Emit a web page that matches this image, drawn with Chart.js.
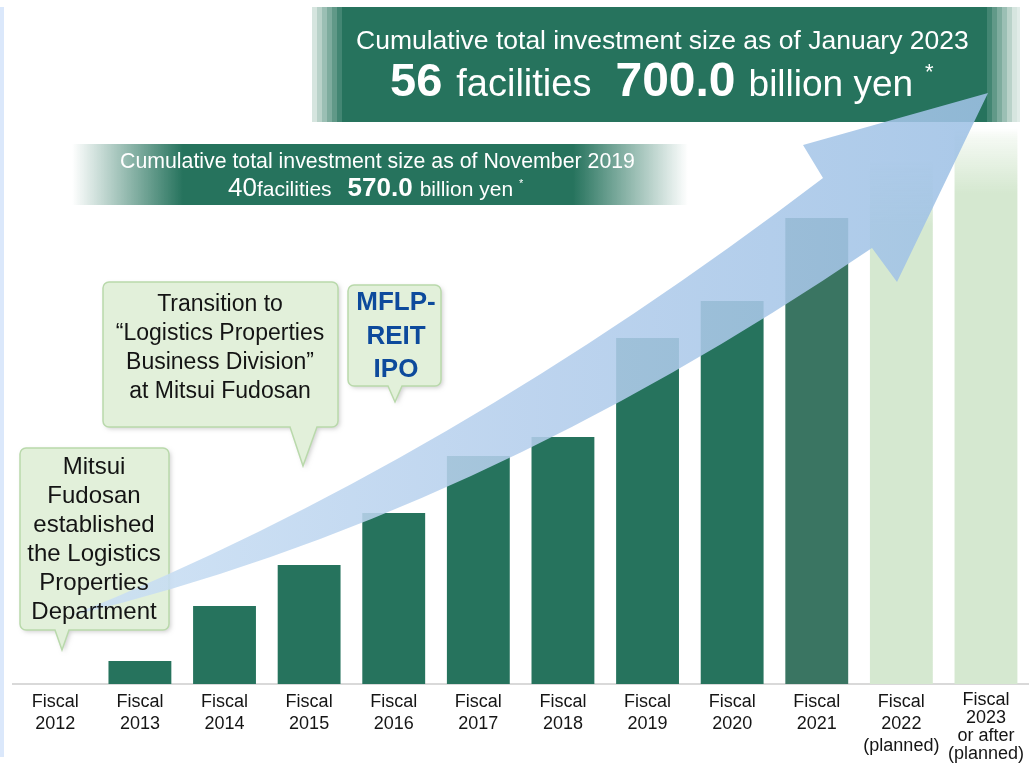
<!DOCTYPE html>
<html><head><meta charset="utf-8">
<script src="https://cdn.jsdelivr.net/npm/chart.js@4/dist/chart.umd.min.js"></script>
<style>html,body{margin:0;padding:0;background:#fff;overflow:hidden}</style>
</head><body>
<canvas id="c" width="1031" height="764"></canvas>
<script>
// ---- data ----
const categories = [
  ['Fiscal','2012'],['Fiscal','2013'],['Fiscal','2014'],['Fiscal','2015'],
  ['Fiscal','2016'],['Fiscal','2017'],['Fiscal','2018'],['Fiscal','2019'],
  ['Fiscal','2020'],['Fiscal','2021'],['Fiscal','2022','(planned)'],
  ['Fiscal','2023','or after','(planned)']
];
// relative cumulative investment size (arbitrary units)
const investmentSize = [0, 23, 78, 119, 171, 228, 247, 346, 383, 466, 524, 556];
const plannedFlags = [false,false,false,false,false,false,false,false,false,false,true,true];
const scaleMax = 600;

const banner1Line1 = 'Cumulative total investment size as of January 2023';
const banner1Facilities = '56';
const banner1Amount = '700.0';
const banner2Line1 = 'Cumulative total investment size as of November 2019';
const banner2Facilities = '40';
const banner2Amount = '570.0';
const note1Lines = ['Mitsui','Fudosan','established','the Logistics','Properties','Department'];
const note2Lines = ['Transition to','\u201CLogistics Properties','Business Division\u201D','at Mitsui Fudosan'];
const note3Lines = ['MFLP-','REIT','IPO'];

const FONT = "'Liberation Sans', Arial, sans-serif";
const DARK = '#26735d';
const DARK2 = '#3a7562';
const PLAN = [213,232,208];

function roundedCallout(ctx, x0, y0, x1, y1, r, px0, px1, tx, ty) {
  ctx.beginPath();
  ctx.moveTo(x0 + r, y0);
  ctx.lineTo(x1 - r, y0); ctx.arcTo(x1, y0, x1, y0 + r, r);
  ctx.lineTo(x1, y1 - r); ctx.arcTo(x1, y1, x1 - r, y1, r);
  ctx.lineTo(px1, y1); ctx.lineTo(tx, ty); ctx.lineTo(px0, y1);
  ctx.lineTo(x0 + r, y1); ctx.arcTo(x0, y1, x0, y1 - r, r);
  ctx.lineTo(x0, y0 + r); ctx.arcTo(x0, y0, x0 + r, y0, r);
  ctx.closePath();
}
function fillCallout(ctx, args) {
  ctx.save();
  roundedCallout(ctx, ...args);
  ctx.shadowColor = 'rgba(0,0,0,0.18)';
  ctx.shadowBlur = 4; ctx.shadowOffsetX = 2; ctx.shadowOffsetY = 2;
  ctx.fillStyle = '#e2f0da';
  ctx.fill();
  ctx.shadowColor = 'transparent';
  ctx.strokeStyle = '#b9d9ab';
  ctx.lineWidth = 1.5;
  ctx.stroke();
  ctx.restore();
}
function drawLines(ctx, lines, cx, y0, pitch, font, color) {
  ctx.save();
  ctx.font = font; ctx.fillStyle = color;
  ctx.textAlign = 'center'; ctx.textBaseline = 'middle';
  lines.forEach((l, i) => ctx.fillText(l, cx, y0 + i * pitch));
  ctx.restore();
}
function drawRuns(ctx, runs, x, baseline, color) {
  ctx.save();
  ctx.fillStyle = color; ctx.textAlign = 'left'; ctx.textBaseline = 'alphabetic';
  runs.forEach(r => {
    x += (r.gap || 0);
    ctx.font = r.f;
    ctx.fillText(r.t, x, baseline + (r.dy || 0));
    x += ctx.measureText(r.t).width;
  });
  ctx.restore();
}
function lerp(a, b, t) { return Math.round(a + (b - a) * t); }

const decor = {
  id: 'decor',
  beforeDraw(chart) {
    const ctx = chart.ctx;
    ctx.save();
    ctx.fillStyle = '#dbe8fb';
    ctx.fillRect(0, 7, 4, 750);
    ctx.restore();
  },
  afterDatasetsDraw(chart) {
    const ctx = chart.ctx;
    ctx.save();
    // ---- top banner ----
    const dk = [38,115,93], lt = [214,229,223];
    ctx.fillStyle = DARK;
    ctx.fillRect(347, 7, 635, 115);
    for (let i = 0; i < 7; i++) {
      const t = i / 6;
      ctx.fillStyle = `rgb(${lerp(lt[0],dk[0],t)},${lerp(lt[1],dk[1],t)},${lerp(lt[2],dk[2],t)})`;
      ctx.fillRect(312 + i * 5, 7, 5, 115);
    }
    for (let i = 0; i < 7; i++) {
      const t = i / 6;
      ctx.fillStyle = `rgb(${lerp(dk[0],lt[0],t)},${lerp(dk[1],lt[1],t)},${lerp(dk[2],lt[2],t)})`;
      ctx.fillRect(982 + i * 5, 7, 5, 115);
    }
    ctx.fillStyle = 'rgb(225,236,232)';
    ctx.fillRect(1017, 7, 3, 115);

    // ---- second banner ----
    const g2 = ctx.createLinearGradient(72, 0, 688, 0);
    g2.addColorStop(0, 'rgba(38,115,93,0)');
    g2.addColorStop((183 - 72) / 616, 'rgba(38,115,93,1)');
    g2.addColorStop((573 - 72) / 616, 'rgba(38,115,93,1)');
    g2.addColorStop(1, 'rgba(38,115,93,0)');
    ctx.fillStyle = g2;
    ctx.fillRect(72, 144, 616, 61);

    // ---- callout shapes ----
    fillCallout(ctx, [20, 448, 169, 630, 6, 55, 69, 62, 650]);
    fillCallout(ctx, [103, 282, 338, 427, 6, 290, 317, 303, 466]);
    fillCallout(ctx, [348, 285, 441, 386, 6, 388, 402, 395, 402]);

    // ---- arrow ----
    const ga = ctx.createLinearGradient(70, 0, 990, 0);
    ga.addColorStop(0, 'rgba(203,224,244,0.88)');
    ga.addColorStop(0.5, 'rgba(180,206,236,0.88)');
    ga.addColorStop(1, 'rgba(158,193,229,0.88)');
    ctx.beginPath();
    ctx.moveTo(70, 616);
    ctx.quadraticCurveTo(446, 465, 823, 178);
    ctx.lineTo(803, 145);
    ctx.lineTo(988, 93);
    ctx.lineTo(897, 282);
    ctx.lineTo(872, 248);
    ctx.quadraticCurveTo(471, 520, 70, 616);
    ctx.closePath();
    ctx.fillStyle = ga;
    ctx.fill();

    // ---- texts ----
    ctx.save();
    ctx.fillStyle = '#fff'; ctx.font = `26.5px ${FONT}`; ctx.textBaseline = 'alphabetic';
    ctx.fillText(banner1Line1, 356, 49);
    ctx.restore();
    drawRuns(ctx, [
      {t: banner1Facilities, f: `bold 47px ${FONT}`},
      {t: 'facilities', f: `38px ${FONT}`, gap: 14},
      {t: banner1Amount, f: `bold 48px ${FONT}`, gap: 24},
      {t: 'billion yen', f: `37px ${FONT}`, gap: 13},
      {t: '*', f: `22px ${FONT}`, gap: 12, dy: -17}
    ], 390, 96, '#fff');

    ctx.save();
    ctx.fillStyle = '#fff'; ctx.font = `21.3px ${FONT}`; ctx.textBaseline = 'alphabetic';
    ctx.fillText(banner2Line1, 120, 168);
    ctx.restore();
    drawRuns(ctx, [
      {t: banner2Facilities, f: `26px ${FONT}`},
      {t: 'facilities', f: `21px ${FONT}`},
      {t: banner2Amount, f: `bold 26px ${FONT}`, gap: 16},
      {t: 'billion yen', f: `21px ${FONT}`, gap: 7},
      {t: '*', f: `11px ${FONT}`, gap: 6, dy: -9}
    ], 228, 196, '#fff');

    drawLines(ctx, note1Lines, 94, 467, 29, `24px ${FONT}`, '#141414');
    drawLines(ctx, note2Lines, 220, 305, 29, `23px ${FONT}`, '#141414');
    drawLines(ctx, note3Lines, 396, 303, 33.5, `bold 26px ${FONT}`, '#0d4a9c');
    ctx.restore();
  }
};

new Chart(document.getElementById('c'), {
  type: 'bar',
  data: {
    labels: categories,
    datasets: [{
      data: investmentSize,
      barPercentage: 0.743,
      categoryPercentage: 1,
      borderWidth: 0,
      backgroundColor: (c) => {
        const i = c.dataIndex, chart = c.chart;
        if (plannedFlags[i]) {
          if (!chart.chartArea || !chart.scales.y) return `rgb(${PLAN})`;
          const y = chart.scales.y.getPixelForValue(investmentSize[i]);
          const g = chart.ctx.createLinearGradient(0, y, 0, y + 65);
          g.addColorStop(0, `rgba(${PLAN},0)`);
          g.addColorStop(0.15, `rgba(${PLAN},0.25)`);
          g.addColorStop(1, `rgba(${PLAN},1)`);
          return g;
        }
        return i === 9 ? DARK2 : DARK;
      }
    }]
  },
  options: {
    responsive: false,
    animation: false,
    layout: { padding: { left: 13, right: 0, top: 84, bottom: 0 } },
    plugins: { legend: { display: false }, tooltip: { enabled: false }, title: { display: false } },
    scales: {
      y: { display: false, min: 0, max: scaleMax },
      x: {
        afterFit: (s) => { s.height = 80; },
        grid: { display: false, drawTicks: false },
        border: { display: true, color: '#d9d9d9', width: 2 },
        ticks: {
          padding: 7,
          color: '#151515',
          maxRotation: 0,
          autoSkip: false,
          font: (c) => ({ family: FONT, size: 18, lineHeight: c.index === 11 ? 1.0 : 1.22 })
        }
      }
    }
  },
  plugins: [decor]
});
</script>
</body></html>
